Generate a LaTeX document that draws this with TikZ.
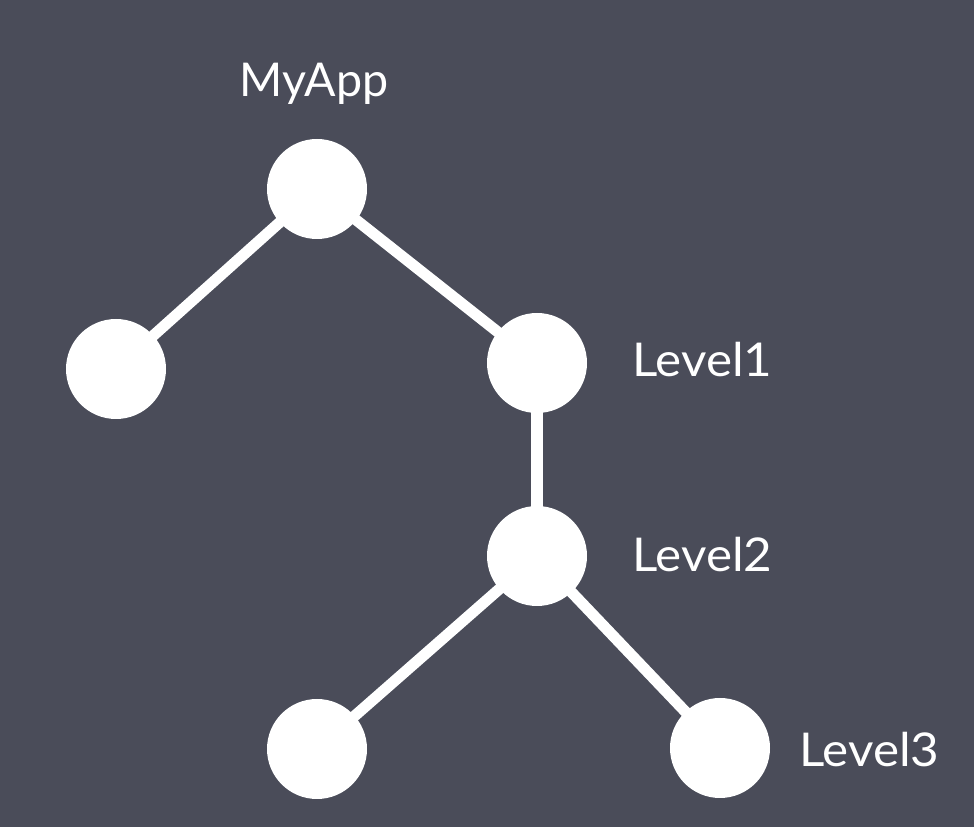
\documentclass[tikz,border=0pt]{standalone}
\usepackage{fontspec}
\setmainfont{Lato}
\newfontfamily\widelato{Lato}[FakeStretch=1.06]
\usepackage{xcolor}
\usetikzlibrary{positioning, backgrounds}

\definecolor{slate}{RGB}{74,76,89}

\begin{document}
\begin{tikzpicture}[
  leaf/.style={circle, fill=white, minimum size=2cm, inner sep=0pt},
  tag/.style={text=white, font=\fontsize{26.5}{30}\selectfont, inner sep=0pt},
  widetag/.style={tag, font=\widelato\fontsize{26.5}{30}\selectfont},
  link/.style={draw=white, line width=6.3pt}
]
\useasboundingbox (0,0) rectangle (19.48,16.54);

\node[leaf] (app) at (6.34,12.76) {};
\node[leaf] (left) at (2.32,9.16) {};
\node[leaf] (lvl1) at (10.74,9.28) {};
\node[leaf] (lvl2) at (10.74,5.42) {};
\node[leaf] (botl) at (6.34,1.56) {};
\node[leaf] (botr) at (14.40,1.58) {};

\node[tag, anchor=base] (appname) at (6.28,14.60) {MyApp};
\node[widetag, anchor=base west] (name1) at (12.64,9.00) {Level1};
\node[widetag, anchor=base west] (name2) at (12.64,5.10) {Level2};
\node[widetag, anchor=base west] (name3) at (15.98,1.20) {Level3};

\begin{scope}[on background layer]
\fill[slate] (0,0) rectangle (19.48,16.54);
\draw[link] (app.center) -- (left.center);
\draw[link] (app.center) -- (lvl1.center);
\draw[link] (lvl1.center) -- (lvl2.center);
\draw[link] (lvl2.center) -- (botl.center);
\draw[link] (lvl2.center) -- (botr.center);
\end{scope}
\end{tikzpicture}
\end{document}
